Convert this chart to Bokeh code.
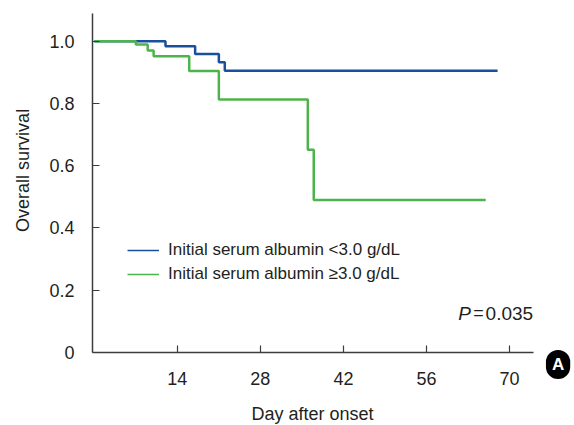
import math
from bokeh.plotting import figure
from bokeh.models import Range1d, FixedTicker, Label, Legend, LegendItem
from bokeh.embed import file_html
from bokeh.resources import INLINE

# ---- data ----
blue_days = [0, 12, 17, 21, 22, 68]
blue_surv = [1.0, 0.984, 0.959, 0.932, 0.905, 0.905]
green_days = [0, 7, 9, 10, 16, 21, 36, 37, 66]
green_surv = [1.0, 0.989, 0.970, 0.952, 0.904, 0.813, 0.651, 0.490, 0.490]
x_ticks = [14, 28, 42, 56, 70]
y_ticks = [0, 0.2, 0.4, 0.6, 0.8, 1.0]
y_tick_labels = ["0", "0.2", "0.4", "0.6", "0.8", "1.0"]
series_names = ["Initial serum albumin <3.0 g/dL", "Initial serum albumin \u22653.0 g/dL"]
p_value = "0.035"

BLUE = "#1a4f9e"
GREEN = "#4cb44a"
TXT = "#231f20"
FONT = "Liberation Sans"

# frame covers the whole canvas; axes are pinned inside it
p = figure(width=574, height=425, output_backend="svg", toolbar_location=None,
           x_range=Range1d(-15.82, 80.97), y_range=Range1d(-0.2345, 1.1307))
p.min_border = 0
p.min_border_left = 0
p.min_border_right = 0
p.min_border_top = 0
p.min_border_bottom = 0
p.outline_line_color = None
p.xgrid.visible = False
p.ygrid.visible = False
p.background_fill_color = "white"
p.border_fill_color = "white"

for ax in (p.xaxis[0], p.yaxis[0]):
    ax.axis_line_color = "#3c3c3c"
    ax.axis_line_width = 1.5
    ax.major_tick_line_color = "#3c3c3c"
    ax.major_tick_line_width = 1.2
    ax.major_tick_in = 7
    ax.major_tick_out = 0
    ax.minor_tick_line_color = None
    ax.major_label_text_font = FONT
    ax.major_label_text_font_size = "18px"
    ax.major_label_text_color = TXT

p.xaxis.ticker = FixedTicker(ticks=x_ticks)
p.xaxis.fixed_location = 0
p.xaxis.bounds = (-0.3, 74)
p.xaxis.major_label_standoff = 20
p.yaxis.ticker = FixedTicker(ticks=y_ticks)
p.yaxis.fixed_location = -0.3
p.yaxis.bounds = (0, 1.089)
p.yaxis.major_label_overrides = {t: s for t, s in zip(y_ticks, y_tick_labels)}
p.yaxis.major_label_standoff = 18

p.step(blue_days, blue_surv, mode="after", line_color=BLUE, line_width=2.5)
p.step(green_days, green_surv, mode="after", line_color=GREEN, line_width=2.5)

# thin legend swatches (drawn outside the visible range, used only by the legend)
lb = p.line([-40, -39], [3, 3], line_color=BLUE, line_width=1.5)
lg = p.line([-40, -39], [3, 3], line_color=GREEN, line_width=1.5)
legend = Legend(items=[LegendItem(label=series_names[0], renderers=[lb]),
                       LegendItem(label=series_names[1], renderers=[lg])],
                location=(127, 139), orientation="vertical",
                glyph_width=32, glyph_height=24, label_height=24, spacing=0,
                label_standoff=9, padding=0, margin=0,
                border_line_color=None, background_fill_alpha=0,
                label_text_font=FONT, label_text_font_size="17px",
                label_text_color=TXT)
p.add_layout(legend, "center")

# axis titles
p.add_layout(Label(x=-12.0, y=0.585, text="Overall survival", angle=math.pi / 2,
                   text_align="center", text_baseline="middle",
                   text_font=FONT, text_font_size="18px", text_color=TXT))
p.add_layout(Label(x=36.8, y=-0.196, text="Day after onset",
                   text_align="center", text_baseline="middle",
                   text_font=FONT, text_font_size="18px", text_color=TXT))

# p-value
p.add_layout(Label(x=74.0, y=0.126, text=p_value, text_align="right",
                   text_baseline="middle", text_font=FONT, text_font_size="19px",
                   text_color=TXT))
p.add_layout(Label(x=64.8, y=0.126, text="=", text_align="center",
                   text_baseline="middle", text_font=FONT, text_font_size="18px",
                   text_color=TXT))
p.add_layout(Label(x=63.5, y=0.126, text="P", text_align="right",
                   text_baseline="middle", text_font=FONT, text_font_size="19px",
                   text_font_style="italic", text_color=TXT))

# panel marker
p.add_layout(Label(x=78.2, y=-0.0385, text="A", text_align="center", text_baseline="middle",
                   text_font=FONT, text_font_size="17px", text_font_style="bold",
                   text_color="white", background_fill_color="black",
                   padding=(6, 5), border_radius=12))

open("out.html", "w").write(file_html(p, INLINE))
